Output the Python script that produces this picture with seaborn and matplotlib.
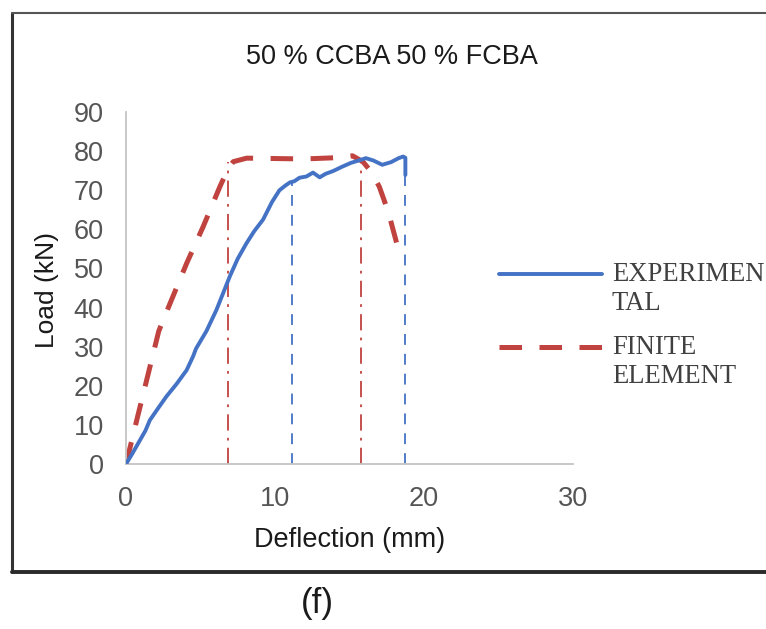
import matplotlib
matplotlib.use("Agg")
import matplotlib.pyplot as plt
from matplotlib.lines import Line2D
import seaborn as sns
import pandas as pd

# Load-deflection data (mm, kN)
exp_defl = [0, 0.4, 0.94, 1.3, 1.6, 2.2, 2.7, 3.4, 4.07, 4.5, 4.7, 5.4, 6.07,
            6.5, 6.97, 7.5, 8.08, 8.6, 9.2, 9.8, 10.3, 10.7, 11.0, 11.3, 11.65,
            12.1, 12.55, 13.0, 13.4, 13.9, 14.5, 15.1, 15.7, 16.1, 16.6, 17.2,
            17.8, 18.3, 18.6, 18.75, 18.75]
exp_load = [0, 2.5, 6.1, 8.5, 11.2, 14.5, 17.2, 20.5, 24.0, 27.5, 29.5, 34.0,
            39.4, 43.5, 48.0, 52.5, 56.4, 59.5, 62.5, 67.0, 70.0, 71.2, 72.0,
            72.3, 73.2, 73.5, 74.5, 73.3, 74.2, 74.9, 76.0, 77.0, 77.7, 78.2,
            77.6, 76.5, 77.2, 78.2, 78.6, 78.3, 73.9]

fe_defl = [0, 0.72, 1.39, 2.2, 2.95, 4.07, 5.18, 6.3, 6.85, 7.2, 8.1, 10.0,
           12.0, 14.0, 15.2, 15.9, 16.5, 17.0, 17.6, 18.2]
fe_load = [0, 11.2, 21.5, 34.0, 41.0, 51.3, 60.7, 70.9, 75.5, 77.3, 78.2, 78.1,
           78.0, 78.3, 78.8, 77.3, 74.5, 70.9, 64.5, 56.0]

# Characteristic deflections (yield / ultimate) with their loads
exp_marks_x = [11.15, 18.75]
exp_marks_load = [71.8, 78.3]
fe_marks_x = [6.85, 15.8]
fe_marks_load = [77.3, 77.6]

series_labels = ["EXPERIMEN\nTAL", "FINITE\nELEMENT"]
title = "50 % CCBA 50 % FCBA"
x_label = "Deflection (mm)"
y_label = "Load (kN)"
x_ticks = [0, 10, 20, 30]
y_ticks = list(range(0, 100, 10))
caption = "(f)"

BLUE = "#4472C4"
RED = "#C0433F"

sns.set_theme(style="white")
plt.rcParams["font.family"] = ["Liberation Sans", "DejaVu Sans"]

W, H = 766, 629
fig = plt.figure(figsize=(W / 100, H / 100), dpi=100)
ax = fig.add_axes([126 / W, 1 - 464 / H, (573 - 126) / W, (464 - 112) / H])

exp_df = pd.DataFrame({"defl": exp_defl, "load": exp_load})
fe_df = pd.DataFrame({"defl": fe_defl, "load": fe_load})

sns.lineplot(data=exp_df, x="defl", y="load", ax=ax, sort=False,
             estimator=None, color=BLUE, lw=2.8, label=series_labels[0],
             zorder=3)
sns.lineplot(data=fe_df, x="defl", y="load", ax=ax, sort=False,
             estimator=None, color=RED, lw=3.6, label=series_labels[1],
             linestyle=(0, (4.5, 3.5)), zorder=2)

ax.vlines(fe_marks_x, 0, fe_marks_load, colors=RED, lw=1.3,
          linestyles=[(0, (9, 4, 1.5, 4))], zorder=1)
ax.vlines(exp_marks_x, 0, exp_marks_load, colors=BLUE, lw=1.3,
          linestyles=[(0, (6, 5))], zorder=1)

ax.set_xlim(0, 30)
ax.set_ylim(0, 90)
ax.set_xticks(x_ticks)
ax.set_yticks(y_ticks)
ax.tick_params(axis="both", length=0, labelsize=19.5, labelcolor="#555555")
ax.tick_params(axis="x", pad=15.5)
ax.tick_params(axis="y", pad=16)

for side in ("top", "right"):
    ax.spines[side].set_visible(False)
for side in ("left", "bottom"):
    ax.spines[side].set_color("#c4c4c4")
    ax.spines[side].set_linewidth(1.3)

ax.set_xlabel(x_label, fontsize=19.5, color="#1a1a1a")
ax.xaxis.set_label_coords(0.501, -0.18)
ax.set_ylabel(y_label, fontsize=19, color="#1a1a1a")
ax.yaxis.set_label_coords(-0.15, 0.494)

ax.set_title(title, fontsize=19.5, color="#1a1a1a", x=0.595, y=1.112)

LEG_SIZE = 19.2
handles = [Line2D([], [], color=BLUE, lw=2.8),
           Line2D([], [], color=RED, lw=3.6, linestyle=(0, (4.5, 3.5)))]
leg = ax.legend(handles, series_labels, loc="upper left",
                bbox_to_anchor=(499 / W, 1 - 262 / H),
                bbox_transform=fig.transFigure,
                frameon=False, handlelength=3.86, handletextpad=0.37,
                labelspacing=0.72, borderpad=0, borderaxespad=0,
                prop={"family": "Liberation Serif", "size": LEG_SIZE},
                labelcolor="#404040")
for t in leg.get_texts():
    t.set_linespacing(1.2)
# keep each legend key level with the first line of its two-line label
for h in leg.legend_handles:
    h.set_ydata(h.get_ydata() + 0.58 * LEG_SIZE)

# Panel frame and caption
fig.add_artist(Line2D([12 / W, 12 / W], [1 - 13 / H, 1 - 572 / H],
                      transform=fig.transFigure, color="#333333", lw=2.2))
fig.add_artist(Line2D([12 / W, 1.0], [1 - 572 / H, 1 - 572 / H],
                      transform=fig.transFigure, color="#2b2b2b", lw=2.8))
fig.add_artist(Line2D([12 / W, 1.0], [1 - 13 / H, 1 - 13 / H],
                      transform=fig.transFigure, color="#555555", lw=1.5))
fig.text(317 / W, 1 - 604 / H, caption, fontsize=25, ha="center",
         va="center", color="#1a1a1a")

fig.savefig("out.png", dpi=100)
